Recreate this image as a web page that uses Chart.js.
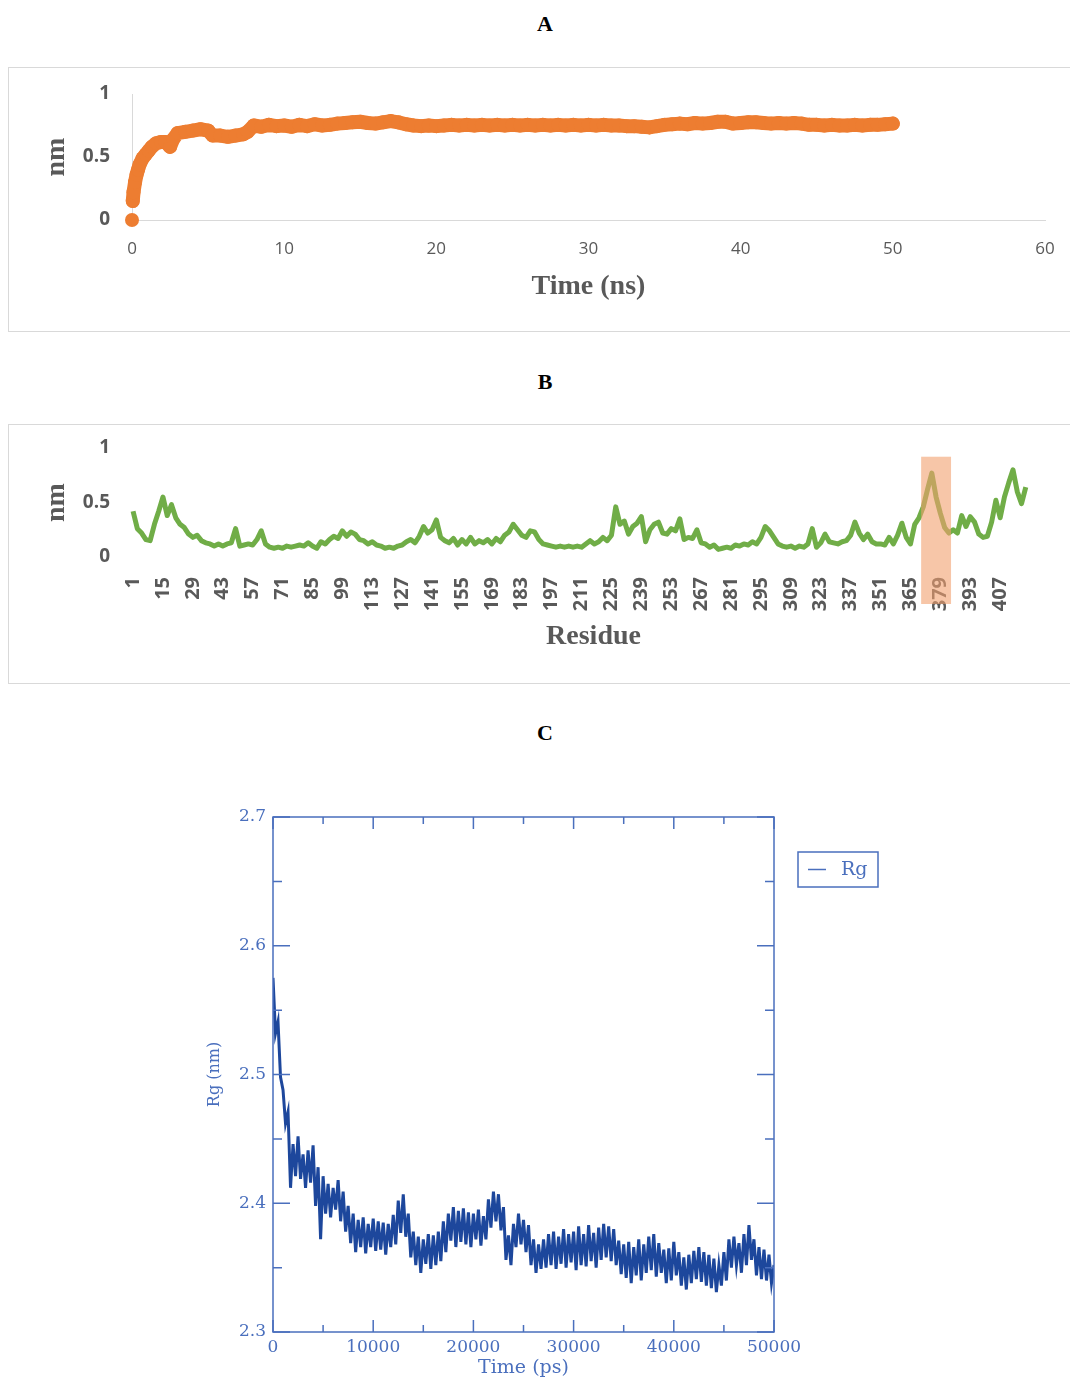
<!DOCTYPE html>
<html>
<head>
<meta charset="utf-8">
<script src="https://cdn.jsdelivr.net/npm/chart.js@4.4.1/dist/chart.umd.min.js"></script>
<style>
  html, body { margin: 0; padding: 0; background: #fff; }
  body { width: 1070px; height: 1378px; overflow: hidden; position: relative; }
  .panel-title { position: absolute; left: 0; width: 1090px; text-align: center;
    font: bold 22px "Liberation Serif", "Times New Roman", serif; color: #000; line-height: 24px; }
  .frame { position: absolute; left: 8px; width: 1080px; border: 1px solid #d9d9d9; }
  canvas { position: absolute; }
</style>
</head>
<body>
<div class="panel-title" style="top:12px">A</div>
<div class="frame" style="top:67px;height:263px"></div>
<canvas id="rmsdChart" width="1062" height="264" style="left:8px;top:67px"></canvas>

<div class="panel-title" style="top:370px">B</div>
<div class="frame" style="top:424px;height:258px"></div>
<canvas id="rmsfChart" width="1062" height="259" style="left:8px;top:424px"></canvas>

<div class="panel-title" style="top:721px">C</div>
<canvas id="rgChart" width="720" height="600" style="left:190px;top:790px"></canvas>

<script>
// ---- A: RMSD (nm) vs time (ns)
const rmsdStart = { x: 0, y: 0 };
const rmsdTime = [0.05, 0.1, 0.2, 0.3, 0.4, 0.5, 0.7, 0.9, 1.1, 1.3, 1.6, 1.9, 2.2, 2.5, 2.7, 3.0, 3.5, 4.0, 4.5, 5.0,
  5.3, 5.8, 6.3, 6.8, 7.3, 7.6,
  8, 8.5, 9, 9.5, 10, 10.5, 11, 11.5, 12, 12.5, 13, 13.5, 14, 14.5, 15, 15.5, 16, 16.5, 17, 17.5,
  18, 18.5, 19, 19.5, 20, 20.5, 21, 21.5, 22, 22.5, 23, 23.5, 24, 24.5, 25, 25.5, 26, 26.5, 27, 27.5,
  28, 28.5, 29, 29.5, 30, 30.5, 31, 31.5, 32, 32.5, 33, 33.5, 34, 34.5, 35, 35.5, 36, 36.5, 37, 37.5,
  38, 38.5, 39, 39.5, 40, 40.5, 41, 41.5, 42, 42.5, 43, 43.5, 44, 44.5, 45, 45.5, 46, 46.5, 47, 47.5,
  48, 48.5, 49, 49.5, 50];
const rmsdNm = [0.15, 0.22, 0.30, 0.36, 0.40, 0.44, 0.49, 0.52, 0.55, 0.58, 0.61, 0.62, 0.62, 0.58, 0.64, 0.69, 0.70, 0.71, 0.72, 0.71,
  0.67, 0.67, 0.66, 0.67, 0.68, 0.70,
  0.75, 0.74, 0.755, 0.745, 0.75, 0.74, 0.755, 0.745, 0.76, 0.75, 0.755, 0.765, 0.77, 0.775, 0.78, 0.77, 0.765, 0.775, 0.785, 0.775,
  0.76, 0.75, 0.745, 0.75, 0.745, 0.75, 0.755, 0.75, 0.755, 0.75, 0.755, 0.75, 0.755, 0.75, 0.755, 0.75, 0.755, 0.75, 0.755, 0.75,
  0.755, 0.75, 0.755, 0.75, 0.755, 0.75, 0.755, 0.75, 0.75, 0.745, 0.745, 0.74, 0.735, 0.745, 0.755, 0.76, 0.765, 0.76, 0.77, 0.765,
  0.77, 0.78, 0.78, 0.765, 0.77, 0.775, 0.775, 0.77, 0.765, 0.77, 0.765, 0.77, 0.765, 0.755, 0.755, 0.75, 0.755, 0.75, 0.75, 0.755,
  0.75, 0.755, 0.755, 0.76, 0.765];

// ---- B: RMSF (nm) per residue, read every second residue
const residueFirst = 1;
const residueStep = 2;
const rmsfNm = [
  0.42, 0.26, 0.22, 0.16, 0.15, 0.30, 0.42, 0.55, 0.38, 0.48, 0.36, 0.30, 0.27, 0.21, 0.18, 0.20, 0.15, 0.13, 0.12, 0.10,
  0.12, 0.10, 0.12, 0.13, 0.26, 0.10, 0.11, 0.12, 0.11, 0.16, 0.24, 0.12, 0.09, 0.08, 0.09, 0.08, 0.10, 0.09, 0.10, 0.11,
  0.10, 0.13, 0.10, 0.08, 0.14, 0.12, 0.16, 0.19, 0.17, 0.24, 0.19, 0.23, 0.21, 0.16, 0.15, 0.12, 0.14, 0.11, 0.10, 0.08,
  0.09, 0.08, 0.10, 0.11, 0.14, 0.16, 0.13, 0.19, 0.28, 0.22, 0.25, 0.34, 0.18, 0.15, 0.13, 0.17, 0.11, 0.16, 0.12, 0.18,
  0.12, 0.15, 0.13, 0.16, 0.12, 0.17, 0.14, 0.20, 0.23, 0.30, 0.25, 0.20, 0.18, 0.24, 0.23, 0.16, 0.12, 0.11, 0.10, 0.09,
  0.10, 0.09, 0.10, 0.09, 0.10, 0.09, 0.12, 0.15, 0.12, 0.14, 0.18, 0.15, 0.20, 0.46, 0.30, 0.33, 0.21, 0.28, 0.31, 0.37,
  0.14, 0.25, 0.30, 0.32, 0.22, 0.21, 0.26, 0.24, 0.35, 0.16, 0.18, 0.17, 0.25, 0.13, 0.12, 0.09, 0.11, 0.07, 0.08, 0.09,
  0.08, 0.11, 0.10, 0.12, 0.11, 0.14, 0.12, 0.18, 0.28, 0.24, 0.18, 0.12, 0.10, 0.09, 0.10, 0.08, 0.10, 0.09, 0.12, 0.26,
  0.09, 0.13, 0.21, 0.14, 0.13, 0.12, 0.14, 0.15, 0.20, 0.32, 0.22, 0.16, 0.21, 0.14, 0.12, 0.12, 0.11, 0.18, 0.12, 0.20,
  0.31, 0.18, 0.12, 0.30, 0.36, 0.46, 0.62, 0.77, 0.55, 0.40, 0.27, 0.22, 0.25, 0.22, 0.38, 0.28, 0.37, 0.32, 0.21, 0.18,
  0.19, 0.32, 0.52, 0.36, 0.55, 0.68, 0.80, 0.60, 0.49, 0.64];
const residueTicks = [1, 15, 29, 43, 57, 71, 85, 99, 113, 127, 141, 155, 169, 183, 197, 211, 225, 239, 253, 267,
  281, 295, 309, 323, 337, 351, 365, 379, 393, 407];
const residueCount = 420;
const highlightResidues = [370, 384];
const highlightTopNm = 0.92;

// ---- C: radius of gyration (nm), sampled every 250 ps
const rgStepPs = 250;
const rgNm = [
  2.575, 2.532, 2.541, 2.498, 2.488, 2.462, 2.471, 2.412, 2.446, 2.421,
  2.452, 2.419, 2.438, 2.412, 2.441, 2.416, 2.445, 2.398, 2.428, 2.372,
  2.421, 2.392, 2.415, 2.389, 2.412, 2.395, 2.418, 2.386, 2.409, 2.378,
  2.398, 2.369, 2.392, 2.362, 2.387, 2.366, 2.389, 2.361, 2.384, 2.366,
  2.388, 2.363, 2.386, 2.364, 2.385, 2.360, 2.384, 2.366, 2.391, 2.368,
  2.402, 2.377, 2.407, 2.374, 2.392, 2.358, 2.378, 2.352, 2.374, 2.346,
  2.372, 2.353, 2.376, 2.349, 2.375, 2.352, 2.378, 2.355, 2.386, 2.362,
  2.392, 2.371, 2.397, 2.366, 2.394, 2.370, 2.396, 2.368, 2.393, 2.366,
  2.392, 2.372, 2.395, 2.367, 2.390, 2.372, 2.403, 2.381, 2.409, 2.386,
  2.407, 2.379, 2.397, 2.356, 2.375, 2.352, 2.384, 2.366, 2.392, 2.368,
  2.387, 2.362, 2.383, 2.352, 2.372, 2.346, 2.368, 2.349, 2.372, 2.350,
  2.376, 2.352, 2.378, 2.349, 2.374, 2.353, 2.380, 2.350, 2.376, 2.354,
  2.378, 2.348, 2.382, 2.352, 2.376, 2.351, 2.383, 2.355, 2.377, 2.350,
  2.381, 2.356, 2.384, 2.358, 2.382, 2.355, 2.380, 2.352, 2.371, 2.345,
  2.368, 2.342, 2.370, 2.338, 2.366, 2.344, 2.372, 2.340, 2.368, 2.346,
  2.374, 2.348, 2.376, 2.343, 2.369, 2.346, 2.364, 2.338, 2.365, 2.340,
  2.370, 2.344, 2.362, 2.336, 2.358, 2.333, 2.360, 2.338, 2.363, 2.341,
  2.366, 2.339, 2.362, 2.336, 2.360, 2.334, 2.357, 2.331, 2.352, 2.336,
  2.362, 2.340, 2.372, 2.350, 2.374, 2.352, 2.369, 2.346, 2.376, 2.352,
  2.383, 2.356, 2.372, 2.344, 2.366, 2.341, 2.364, 2.340, 2.360, 2.338,
  2.352];

Chart.defaults.animation = false;
Chart.defaults.plugins.legend.display = false;
Chart.defaults.plugins.tooltip.enabled = false;

const orange = '#ED7D31';
const green = '#70AD47';
const grayText = '#595959';
const axisGray = '#d9d9d9';
const rgLine = '#1d479c';
const rgAxis = '#4a6fbd';

// plain number labels, no thousands separator / trailing .0
const plainNum = (v) => String(Math.round(v * 100) / 100);

// fixed axis box size; drop the label overhang padding chart.js adds around the plot
const fixBox = (size) => (scale) => {
  if (scale.isHorizontal()) scale.height = size; else scale.width = size;
  scale.paddingTop = 0; scale.paddingBottom = 0;
  scale.paddingLeft = 0; scale.paddingRight = 0;
};

// 1. RMSD
new Chart(document.getElementById('rmsdChart'), {
  type: 'scatter',
  data: {
    datasets: [
      {
        data: rmsdTime.map((t, i) => ({ x: t, y: rmsdNm[i] })),
        showLine: true,
        borderColor: orange,
        backgroundColor: orange,
        borderWidth: 14,
        borderCapStyle: 'round',
        borderJoinStyle: 'round',
        pointRadius: 7,
        pointBorderWidth: 0,
        clip: false
      },
      {
        data: [rmsdStart],
        backgroundColor: orange,
        pointRadius: 7,
        pointBorderWidth: 0,
        clip: false
      }
    ]
  },
  options: {
    responsive: false,
    layout: { padding: { top: 27, right: 25, left: 32 } },
    scales: {
      x: {
        type: 'linear', min: 0, max: 60,
        grid: { display: false, drawTicks: false },
        border: { color: axisGray },
        ticks: { stepSize: 10, color: grayText, padding: 19, font: { family: 'Open Sans', size: 17 }, callback: plainNum },
        title: { display: true, text: 'Time (ns)', color: grayText, padding: { top: 0, bottom: 27 },
          font: { family: 'Liberation Serif', size: 28, weight: 'bold' } },
        afterFit: fixBox(111)
      },
      y: {
        min: 0, max: 1,
        grid: { display: false, drawTicks: false },
        border: { color: axisGray },
        ticks: { stepSize: 0.5, color: grayText, padding: 22, font: { family: 'Open Sans', size: 19, weight: 'bold' }, callback: plainNum },
        title: { display: true, text: 'nm', color: grayText, padding: 0,
          font: { family: 'Liberation Serif', size: 28, weight: 'bold' } },
        afterFit: fixBox(92)
      }
    }
  }
});

// 2. RMSF with highlighted region
const residueTitle = 'Residue';
const highlightBox = {
  id: 'highlightBox',
  afterDatasetsDraw(chart) {
    const { ctx, chartArea, scales } = chart;
    const x1 = scales.x.getPixelForValue(highlightResidues[0]);
    const x2 = scales.x.getPixelForValue(highlightResidues[1]);
    const top = scales.y.getPixelForValue(highlightTopNm);
    const bottom = chartArea.bottom + 47;
    ctx.save();
    ctx.fillStyle = 'rgba(241, 160, 110, 0.6)';
    ctx.fillRect(x1, top, x2 - x1, bottom - top);
    // axis title, sitting a little right of centre as in the source figure
    ctx.fillStyle = grayText;
    ctx.font = 'bold 28px "Liberation Serif"';
    ctx.textAlign = 'center';
    ctx.textBaseline = 'middle';
    ctx.fillText(residueTitle, (chartArea.left + chartArea.right) / 2 + 13, chartArea.bottom + 80);
    ctx.restore();
  }
};

new Chart(document.getElementById('rmsfChart'), {
  type: 'line',
  data: {
    datasets: [{
      data: rmsfNm.map((v, i) => ({ x: residueFirst + i * residueStep, y: v })),
      borderColor: green,
      borderWidth: 5,
      borderJoinStyle: 'round',
      pointRadius: 0,
      tension: 0,
      clip: false
    }]
  },
  options: {
    responsive: false,
    layout: { padding: { top: 24, right: 41, left: 32 } },
    scales: {
      x: {
        type: 'linear', min: 0.5, max: residueCount + 0.5,
        grid: { display: false, drawTicks: false },
        border: { display: false },
        afterBuildTicks: (scale) => { scale.ticks = residueTicks.map(v => ({ value: v })); },
        ticks: { autoSkip: false, minRotation: 90, maxRotation: 90, color: grayText, padding: 20,
          font: { family: 'Open Sans', size: 20, weight: 'bold' },
          callback: (v) => String(v) },
        afterFit: fixBox(126)
      },
      y: {
        min: 0, max: 1,
        grid: { display: false, drawTicks: false },
        border: { display: false },
        ticks: { stepSize: 0.5, color: grayText, padding: 22, font: { family: 'Open Sans', size: 19, weight: 'bold' }, callback: plainNum },
        title: { display: true, text: 'nm', color: grayText, padding: 0,
          font: { family: 'Liberation Serif', size: 28, weight: 'bold' } },
        afterFit: fixBox(92)
      }
    }
  },
  plugins: [highlightBox]
});

// 3. Rg, boxed plot with inward ticks and legend box
const rgFrame = {
  id: 'rgFrame',
  afterDraw(chart) {
    const { ctx, chartArea: a, scales } = chart;
    ctx.save();
    ctx.strokeStyle = rgAxis;
    ctx.lineWidth = 1.5;
    ctx.strokeRect(a.left, a.top, a.right - a.left, a.bottom - a.top);

    const drawTicks = (scale, horizontal) => {
      const vals = scale.ticks.map(t => t.value);
      const marks = [];
      vals.forEach((v, i) => {
        marks.push([v, true]);
        if (i < vals.length - 1) marks.push([(v + vals[i + 1]) / 2, false]);
      });
      marks.forEach(([v, major]) => {
        const p = scale.getPixelForValue(v);
        ctx.beginPath();
        if (horizontal) {
          const len = major ? 12 : 7;
          ctx.moveTo(p, a.bottom); ctx.lineTo(p, a.bottom - len);
          ctx.moveTo(p, a.top); ctx.lineTo(p, a.top + len);
        } else {
          const len = major ? 17 : 9;
          ctx.moveTo(a.left, p); ctx.lineTo(a.left + len, p);
          ctx.moveTo(a.right, p); ctx.lineTo(a.right - len, p);
        }
        ctx.stroke();
      });
    };
    drawTicks(scales.x, true);
    drawTicks(scales.y, false);

    // legend box
    const lx = a.right + 24, ly = a.top + 35, lw = 80, lh = 35;
    ctx.strokeRect(lx, ly, lw, lh);
    ctx.beginPath();
    ctx.moveTo(lx + 10, ly + lh / 2);
    ctx.lineTo(lx + 28, ly + lh / 2);
    ctx.stroke();
    ctx.fillStyle = rgAxis;
    ctx.font = '19px "DejaVu Serif"';
    ctx.textBaseline = 'middle';
    ctx.fillText(chart.data.datasets[0].label, lx + 43, ly + lh / 2 + 1);
    ctx.restore();
  }
};

new Chart(document.getElementById('rgChart'), {
  type: 'line',
  data: {
    datasets: [{
      label: 'Rg',
      data: rgNm.map((v, i) => ({ x: i * rgStepPs, y: v })),
      borderColor: rgLine,
      borderWidth: 3,
      borderJoinStyle: 'miter',
      pointRadius: 0,
      tension: 0
    }]
  },
  options: {
    responsive: false,
    layout: { padding: { top: 27, right: 136 } },
    scales: {
      x: {
        type: 'linear', min: 0, max: 50000,
        grid: { display: false, drawTicks: false },
        border: { display: false },
        ticks: { stepSize: 10000, color: rgAxis, padding: 5, font: { family: 'DejaVu Serif', size: 17 }, callback: plainNum },
        title: { display: true, text: 'Time (ps)', color: rgAxis, padding: { top: 0, bottom: 11 },
          font: { family: 'DejaVu Serif', size: 19 } },
        afterFit: fixBox(58)
      },
      y: {
        min: 2.3, max: 2.7,
        grid: { display: false, drawTicks: false },
        border: { display: false },
        ticks: { stepSize: 0.1, color: rgAxis, padding: 7, font: { family: 'DejaVu Serif', size: 17 },
          callback: (v) => v.toFixed(1) },
        title: { display: true, text: 'Rg (nm)', color: rgAxis, padding: { top: 15, bottom: 0 },
          font: { family: 'DejaVu Serif', size: 16 } },
        afterFit: fixBox(83)
      }
    }
  },
  plugins: [rgFrame]
});
</script>
</body>
</html>
